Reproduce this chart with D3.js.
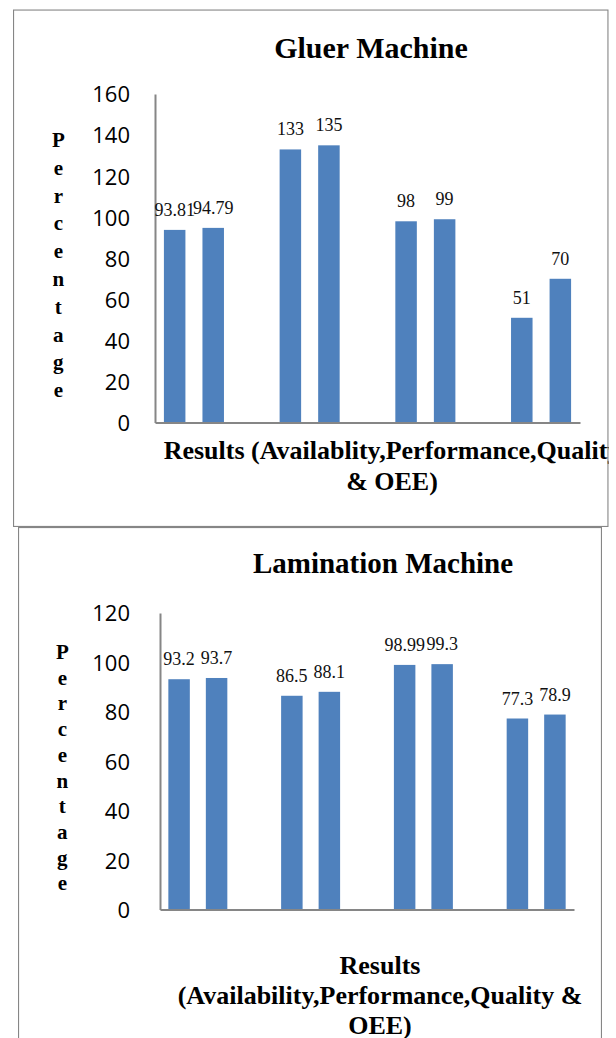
<!DOCTYPE html>
<html>
<head>
<meta charset="utf-8">
<script src="https://cdn.jsdelivr.net/npm/d3@7"></script>
<style>
  html, body { margin: 0; padding: 0; background: #ffffff; }
  svg { display: block; }
</style>
</head>
<body>
<svg id="chart" width="616" height="1038"></svg>
<script>
// ---- data ----
const categories = ["Availability", "Performance", "Quality", "OEE"];
const gluerSeriesA = [93.81, 133, 98, 51];
const gluerSeriesB = [94.79, 135, 99, 70];
const laminationSeriesA = [93.2, 86.5, 98.99, 77.3];
const laminationSeriesB = [93.7, 88.1, 99.3, 78.9];
const gluerTicks = [0, 20, 40, 60, 80, 100, 120, 140, 160];
const laminationTicks = [0, 20, 40, 60, 80, 100, 120];
const gluerTitle = "Gluer Machine";
const laminationTitle = "Lamination Machine";
const gluerXTitle = ["Results (Availablity,Performance,Quality", "& OEE)"];
const laminationXTitle = ["Results", "(Availability,Performance,Quality &", "OEE)"];
const yTitle = "Percentage";

const svg = d3.select("#chart");
const BAR = "#4F81BD";
const GRID = "#868686";
const serif = "'Liberation Serif', 'Times New Roman', serif";
const sans = "'Open Sans', 'Noto Sans', sans-serif";

function drawChart(cfg) {
  const clipId = "clip-" + cfg.id;
  svg.append("clipPath").attr("id", clipId)
    .append("rect")
    .attr("x", cfg.box.x).attr("y", cfg.box.y)
    .attr("width", cfg.box.w).attr("height", cfg.box.h);

  const g = svg.append("g").attr("clip-path", `url(#${clipId})`);

  // box
  g.append("rect")
    .attr("x", cfg.box.x).attr("y", cfg.box.y)
    .attr("width", cfg.box.w).attr("height", cfg.box.h)
    .attr("fill", "#fff").attr("stroke", GRID).attr("stroke-width", 2.2);

  const x = d3.scaleBand().domain(categories)
    .range([cfg.plot.left, cfg.plot.right])
    .paddingInner(cfg.padInner).paddingOuter(cfg.padOuter);
  const xi = d3.scaleBand().domain([0, 1])
    .range([0, x.bandwidth()]).paddingInner(cfg.subPad);
  const y = d3.scaleLinear().domain([0, d3.max(cfg.ticks)])
    .range([cfg.plot.bottom, cfg.plot.top]);

  // title
  g.append("text")
    .attr("x", cfg.titleX).attr("y", cfg.titleY)
    .attr("text-anchor", "middle")
    .style("font-family", serif).style("font-weight", "bold")
    .style("font-size", cfg.titleSize + "px").attr("fill", "#000")
    .text(cfg.title);

  // y axis
  const yAxis = g.append("g")
    .attr("transform", `translate(${cfg.plot.left},0)`)
    .call(d3.axisLeft(y).tickValues(cfg.ticks).tickSize(0).tickSizeOuter(0)
      .tickPadding(cfg.tickPad).tickFormat(d3.format("d")));
  yAxis.select(".domain").attr("stroke", GRID).attr("stroke-width", 2);
  yAxis.selectAll("text")
    .style("font-family", sans).style("font-size", "22px")
    .attr("fill", "#000").attr("dy", "0.36em");

  // bars
  const rows = categories.map((c, i) => ({ cat: c, vals: [cfg.a[i], cfg.b[i]] }));
  const grp = g.selectAll("g.grp").data(rows).join("g")
    .attr("class", "grp")
    .attr("transform", d => `translate(${x(d.cat)},0)`);
  grp.selectAll("rect").data(d => d.vals.map((v, k) => ({ v, k }))).join("rect")
    .attr("x", d => xi(d.k)).attr("width", xi.bandwidth())
    .attr("y", d => y(d.v)).attr("height", d => y(0) - y(d.v))
    .attr("fill", BAR);
  grp.selectAll("text.lbl").data(d => d.vals.map((v, k) => ({ v, k }))).join("text")
    .attr("class", "lbl")
    .attr("x", d => xi(d.k) + xi.bandwidth() / 2)
    .attr("y", d => y(d.v) - 14)
    .attr("text-anchor", "middle")
    .style("font-family", serif).style("font-size", "18px")
    .attr("fill", "#111")
    .text(d => String(d.v));

  // x axis
  const xAxis = g.append("g")
    .attr("transform", `translate(0,${cfg.plot.bottom})`)
    .call(d3.axisBottom(x).tickSize(0).tickSizeOuter(0).tickFormat(""));
  xAxis.select(".domain").attr("stroke", GRID).attr("stroke-width", 2);

  // y title stacked letters
  const letters = yTitle.split("");
  g.append("g").selectAll("text").data(letters).join("text")
    .attr("x", cfg.yTitleX)
    .attr("y", (d, i) => cfg.yTitleY0 + i * cfg.yTitleStep)
    .attr("text-anchor", "middle")
    .style("font-family", serif).style("font-weight", "bold")
    .style("font-size", "21px").attr("fill", "#000")
    .text(d => d);

  // x title
  g.append("g").selectAll("text").data(cfg.xTitle).join("text")
    .attr("x", cfg.xTitleX)
    .attr("y", (d, i) => cfg.xTitleY0 + i * cfg.xTitleStep)
    .attr("text-anchor", "middle")
    .style("font-family", serif).style("font-weight", "bold")
    .style("font-size", "26px").attr("fill", "#000")
    .text(d => d);
}

drawChart({
  id: "gluer",
  box: { x: 13, y: 9.5, w: 595.5, h: 517.5 },
  plot: { left: 155, right: 580, top: 94, bottom: 422.5 },
  padInner: 0.481, padOuter: 0.077, subPad: 0.442,
  ticks: gluerTicks, tickPad: 25,
  a: gluerSeriesA, b: gluerSeriesB,
  title: gluerTitle, titleX: 371, titleY: 58, titleSize: 30,
  yTitleX: 58.3, yTitleY0: 147, yTitleStep: 27.8,
  xTitle: gluerXTitle, xTitleX: 392, xTitleY0: 459, xTitleStep: 31
});

drawChart({
  id: "lamination",
  box: { x: 18, y: 527, w: 584, h: 520 },
  plot: { left: 160, right: 574, top: 613, bottom: 909.5 },
  padInner: 0.477, padOuter: 0.074, subPad: 0.427,
  ticks: laminationTicks, tickPad: 30,
  a: laminationSeriesA, b: laminationSeriesB,
  title: laminationTitle, titleX: 383, titleY: 573, titleSize: 29,
  yTitleX: 62.3, yTitleY0: 659, yTitleStep: 25.7,
  xTitle: laminationXTitle, xTitleX: 380, xTitleY0: 974, xTitleStep: 30
});
</script>
</body>
</html>
